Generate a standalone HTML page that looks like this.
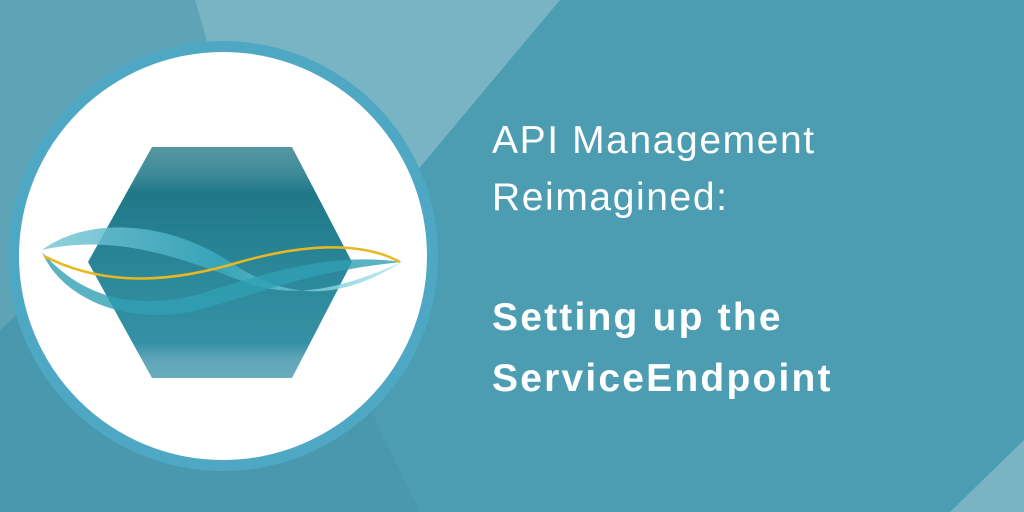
<!DOCTYPE html>
<html><head><style>
html,body{margin:0;padding:0}
body{width:1024px;height:512px;overflow:hidden;background:#4c9db2;position:relative;font-family:"Liberation Sans",sans-serif}
.t{position:absolute;left:492px;color:#fff;font-size:39px;line-height:1;letter-spacing:1.6px;white-space:nowrap}
.b{font-weight:bold;font-size:39px;letter-spacing:2.2px}
</style></head><body>
<svg width="1024" height="512" style="position:absolute;left:0;top:0">
<defs>
<linearGradient id="hx" x1="0" y1="0" x2="0" y2="1">
<stop offset="0" stop-color="#5797a2"/><stop offset="0.12" stop-color="#3d8a98"/><stop offset="0.2" stop-color="#1f7888"/><stop offset="0.6" stop-color="#2d8a9c"/><stop offset="0.85" stop-color="#3690a5"/><stop offset="0.92" stop-color="#5fa6b8"/><stop offset="1" stop-color="#6aadbe"/>
</linearGradient>
<linearGradient id="rb" x1="0" y1="0" x2="1" y2="0">
<stop offset="0" stop-color="#7cc8d8"/><stop offset="0.5" stop-color="#3ba9bd"/><stop offset="1" stop-color="#b2e9f2"/>
</linearGradient>
</defs>
<polygon points="0,0 195,0 230,120 0,330" fill="#5ea4b6"/>
<polygon points="195,0 560,0 380,215 230,120" fill="#78b4c4"/>
<polygon points="0,330 230,120 420,512 0,512" fill="#4a98ad"/>
<polygon points="950,512 1024,440 1024,512" fill="#78b4c4"/>
<circle cx="223" cy="256" r="215" fill="#4fa8c3"/>
<circle cx="223" cy="256" r="204" fill="#fff"/>
<polygon points="152,147 292,147 352,262 292,378 152,378 88,262" fill="url(#hx)"/>
<path d="M42,250 C90,215 170,222 230,262 C290,302 340,300 402,262 C350,285 300,300 250,284 C190,262 120,232 42,250 Z" fill="url(#rb)" opacity="0.85"/>
<path d="M42,252 C60,295 120,325 190,312 C250,298 300,272 402,262 C330,252 270,272 200,294 C130,312 80,295 42,252 Z" fill="#2fa0b3" opacity="0.8"/>
<path d="M44,256 C110,290 180,280 240,262 C300,245 360,240 400,262" fill="none" stroke="#e8b820" stroke-width="2.5"/>
</svg>
<div class="t" style="top:121px">API Management</div>
<div class="t" style="top:178px">Reimagined:</div>
<div class="t b" style="top:298px">Setting up the</div>
<div class="t b" style="top:359px">ServiceEndpoint</div>
</body></html>
